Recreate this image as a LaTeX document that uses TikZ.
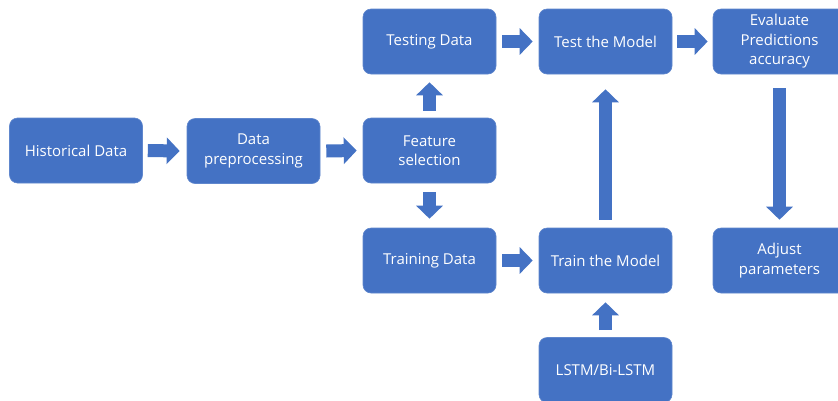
\documentclass[tikz,border=0pt]{standalone}
\usepackage{fontspec}
\setmainfont{Open Sans}
\usetikzlibrary{arrows.meta}
\definecolor{boxblue}{HTML}{4472C4}
\tikzset{
  box/.style={fill=boxblue, draw=boxblue!85!white, line width=0.6pt, rounded corners=8pt,
    minimum width=133pt, minimum height=65pt, inner sep=2pt, text=white, align=center,
    font=\fontsize{15pt}{19.5pt}\selectfont},
  blockarrow/.style={draw=boxblue, line width=13pt, -{Triangle[length=13pt,width=26pt]}},
}
\begin{document}
\begin{tikzpicture}[x=1pt,y=-1pt]
\clip (0,0) rectangle (838,400);
\fill[white] (0,0) rectangle (838,400);
\node[box] (hist) at (76,150.5) {Historical Data};
\node[box] (prep) at (253.5,151) {Data\\preprocessing};
\node[box] (feat) at (429.5,150.5) {Feature\\selection};
\node[box] (testd) at (429.5,41.5) {Testing Data};
\node[box] (traind) at (429.5,260.5) {Training Data};
\node[box] (testm) at (605.5,41.5) {Test the Model};
\node[box] (trainm) at (605.5,260.5) {Train the Model};
\node[box] (lstm) at (605.5,370) {LSTM/Bi-LSTM};
\node[box] (eval) at (779.5,41.5) {Evaluate\\Predictions\\accuracy};
\node[box] (adj) at (779.5,260.5) {Adjust\\parameters};

\draw[blockarrow] ([xshift=5pt]hist.east) -- ([xshift=-7pt]prep.west);
\draw[blockarrow] ([xshift=6pt]prep.east) -- ([xshift=-6pt]feat.west);
\draw[blockarrow] ([xshift=6pt]testd.east) -- ([xshift=-6pt]testm.west);
\draw[blockarrow] ([xshift=5pt]testm.east) -- ([xshift=-5pt]eval.west);
\draw[blockarrow] ([xshift=6pt]traind.east) -- ([xshift=-6pt]trainm.west);
\draw[blockarrow] ([yshift=7pt]feat.north) -- ([yshift=-8pt]testd.south);
\draw[blockarrow] ([yshift=-9pt]feat.south) -- ([yshift=9pt]traind.north);
\draw[blockarrow] ([yshift=8pt]trainm.north) -- ([yshift=-15pt]testm.south);
\draw[blockarrow] ([yshift=-14pt]eval.south) -- ([yshift=8pt]adj.north);
\draw[blockarrow] ([yshift=7pt]lstm.north) -- ([yshift=-9pt]trainm.south);
\end{tikzpicture}
\end{document}
